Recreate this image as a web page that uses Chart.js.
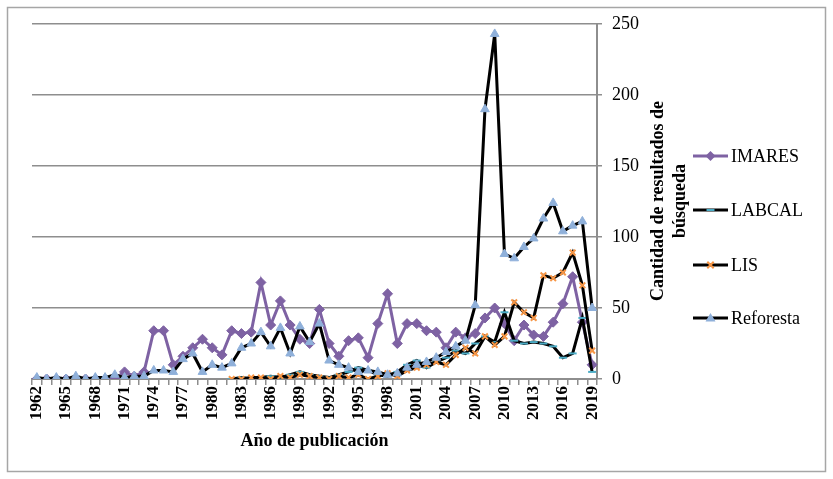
<!DOCTYPE html>
<html>
<head>
<meta charset="utf-8">
<script src="https://cdn.jsdelivr.net/npm/chart.js@4/dist/chart.umd.min.js"></script>
<style>
  html, body { margin: 0; padding: 0; background: #fff; }
  canvas { display: block; }
</style>
</head>
<body>
<canvas id="c" width="833" height="479"></canvas>
<script>
const years = ['1962','1963','1964','1965','1966','1967','1968','1969','1970','1971',
  '1972','1973','1974','1975','1976','1977','1978','1979','1980','1981',
  '1982','1983','1984','1985','1986','1987','1988','1989','1990','1991',
  '1992','1993','1994','1995','1996','1997','1998','1999','2000','2001',
  '2002','2003','2004','2005','2006','2007','2008','2009','2010','2011',
  '2012','2013','2014','2015','2016','2017','2018','2019'];

const shownYearLabels = ['1962','1965','1968','1971','1974','1977','1980','1983','1986','1989',
  '1992','1995','1998','2001','2004','2007','2010','2013','2016','2019'];

const yTicks = [0, 50, 100, 150, 200, 250];

const imares = [0,0,0,0,0,0,0,0,0,
  5,2,5,34,34,10,16,22,28,22,
  17,34,32,33,68,38,55,38,28,25,
  49,25,16,27,29,15,39,60,25,39,
  39,34,33,22,33,29,32,43,50,39,
  27,38,31,30,40,53,72,40,10];

const labcal = [null,null,null,null,null,null,null,null,null,null,
  null,null,null,null,null,null,null,null,null,null,
  0,1,0,1,2,1,3,5,3,2,
  1,3,5,8,6,3,2,5,10,13,
  8,12,15,20,18,25,30,26,47,27,
  25,26,25,23,15,18,43,5];

const lis = [null,null,null,null,null,null,null,null,null,null,
  null,null,null,null,null,null,null,null,null,null,
  0,0,1,1,0,2,1,3,2,1,
  0,2,1,3,0,2,4,2,6,8,
  10,12,10,17,22,18,30,24,30,54,
  47,43,73,71,75,89,66,20];

const reforesta = [1,0,1,0,2,0,1,1,3,1,
  2,2,6,6,5,14,18,5,10,8,
  11,22,25,33,23,36,18,37,26,39,
  13,10,8,5,6,5,3,4,8,10,
  12,15,19,23,27,52,190,243,88,85,
  93,99,113,124,104,108,111,50];

const seriesNames = ['IMARES', 'LABCAL', 'LIS', 'Reforesta'];
const xTitle = 'Año de publicación';
const yTitleLines = ['Cantidad de resultados de', 'búsqueda'];

const PURPLE = '#7E62A3';
const TEAL = '#4BACC6';
const ORANGE = '#F79646';
const LBLUE = '#8FB0DA';
const GRID = '#8E8E8E';
const SERIF = "'Liberation Serif', 'Times New Roman', serif";

const styles = [
  { line: PURPLE, marker: PURPLE, style: 'rectRot', r: 5 },
  { line: '#000', marker: TEAL, style: 'line', r: 4 },
  { line: '#000', marker: ORANGE, style: 'crossRot', r: 4 },
  { line: '#000', marker: LBLUE, style: 'triangle', r: 5 }
];
const seriesData = [imares, labcal, lis, reforesta];

const datasets = seriesData.map((d, i) => ({
  label: seriesNames[i],
  data: d,
  borderColor: styles[i].line,
  backgroundColor: styles[i].marker,
  borderWidth: 3,
  pointStyle: styles[i].style,
  pointRadius: styles[i].r,
  pointBorderColor: styles[i].marker,
  pointBackgroundColor: styles[i].marker,
  pointBorderWidth: styles[i].style === 'line' || styles[i].style === 'crossRot' ? 2 : 1,
  tension: 0,
  spanGaps: false,
  order: 4 - i
}));

function drawMarker(ctx, style, x, y, r, color) {
  ctx.save();
  ctx.strokeStyle = color; ctx.fillStyle = color; ctx.lineWidth = 2;
  ctx.beginPath();
  if (style === 'rectRot') {
    ctx.moveTo(x, y - r); ctx.lineTo(x + r, y); ctx.lineTo(x, y + r); ctx.lineTo(x - r, y); ctx.closePath(); ctx.fill();
  } else if (style === 'line') {
    ctx.moveTo(x - r, y); ctx.lineTo(x + r, y); ctx.stroke();
  } else if (style === 'crossRot') {
    const d = r * 0.8;
    ctx.moveTo(x - d, y - d); ctx.lineTo(x + d, y + d); ctx.moveTo(x + d, y - d); ctx.lineTo(x - d, y + d); ctx.stroke();
  } else if (style === 'triangle') {
    ctx.moveTo(x, y - r); ctx.lineTo(x + r, y + r * 0.7); ctx.lineTo(x - r, y + r * 0.7); ctx.closePath(); ctx.fill();
  }
  ctx.restore();
}

const extras = {
  id: 'extras',
  beforeDraw(chart) {
    const ctx = chart.ctx;
    ctx.save();
    ctx.fillStyle = '#fff';
    ctx.fillRect(0, 0, chart.width, chart.height);
    ctx.restore();
  },
  afterDraw(chart) {
    const ctx = chart.ctx;
    ctx.save();
    // frame
    ctx.strokeStyle = '#A6A6A6';
    ctx.lineWidth = 1.5;
    ctx.strokeRect(7.5, 7.5, 818, 464);
    // y title
    ctx.translate(658, 201);
    ctx.rotate(-Math.PI / 2);
    ctx.fillStyle = '#000';
    ctx.font = 'bold 18px ' + SERIF;
    ctx.textAlign = 'center';
    ctx.textBaseline = 'middle';
    ctx.fillText(yTitleLines[0], 0, 0);
    ctx.fillText(yTitleLines[1], 0, 22);
    ctx.restore();
    // legend
    const ys = [156, 210, 265, 318];
    ctx.save();
    ctx.font = '18px ' + SERIF;
    ctx.textBaseline = 'middle';
    ctx.textAlign = 'left';
    seriesNames.forEach((name, i) => {
      const y = ys[i];
      ctx.strokeStyle = styles[i].line;
      ctx.lineWidth = 3;
      ctx.beginPath(); ctx.moveTo(693, y); ctx.lineTo(728, y); ctx.stroke();
      drawMarker(ctx, styles[i].style, 710.5, y, styles[i].r, styles[i].marker);
      ctx.fillStyle = '#000';
      ctx.fillText(name, 731, y + 1);
    });
    ctx.restore();
  }
};

new Chart(document.getElementById('c'), {
  type: 'line',
  data: { labels: years, datasets: datasets },
  plugins: [extras],
  options: {
    responsive: false,
    animation: false,
    devicePixelRatio: 1,
    layout: { padding: { left: 32, right: 0, top: 24, bottom: 27 } },
    plugins: { legend: { display: false }, tooltip: { enabled: false } },
    scales: {
      x: {
        type: 'category',
        offset: true,
        afterFit(scale) { scale.height = 73; },
        grid: { display: true, drawOnChartArea: false, drawTicks: true, tickLength: 6, color: GRID, lineWidth: 1.5, offset: true },
        border: { display: true, color: GRID, width: 2 },
        ticks: {
          autoSkip: false,
          maxRotation: 90,
          minRotation: 90,
          padding: 1,
          color: '#000',
          font: { family: SERIF, size: 17, weight: 'bold' },
          callback(value, index) {
            const lab = years[index];
            return shownYearLabels.includes(lab) ? lab : '';
          }
        },
        title: {
          display: true,
          text: xTitle,
          color: '#000',
          font: { family: SERIF, size: 18, weight: 'bold' },
          padding: { top: 0, bottom: 0 }
        }
      },
      y: {
        position: 'right',
        min: 0,
        max: 250,
        afterFit(scale) { scale.width = 833 - 597; },
        afterBuildTicks(scale) { scale.ticks = yTicks.map(v => ({ value: v })); },
        grid: { color: GRID, lineWidth: 1.5, drawTicks: true, tickLength: 5 },
        border: { display: true, color: GRID, width: 2 },
        ticks: {
          padding: 10,
          color: '#000',
          font: { family: SERIF, size: 18 }
        }
      }
    }
  }
});
</script>
</body>
</html>
